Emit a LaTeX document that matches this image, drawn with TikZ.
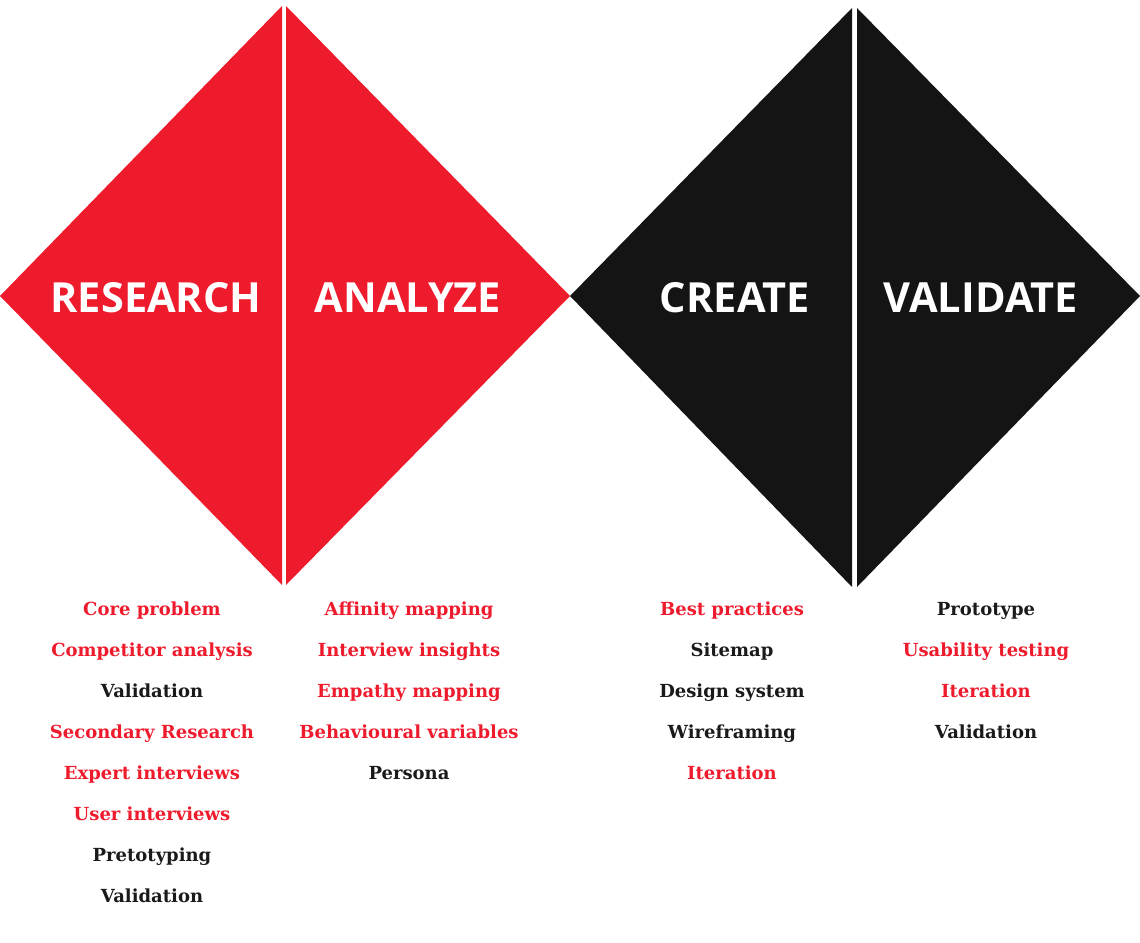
\documentclass[tikz,border=0pt]{standalone}
\usepackage{fontspec}
\setmainfont{DejaVu Serif}
\newfontfamily\headfont{Open Sans}
\definecolor{brandred}{HTML}{EE1B2D}
\definecolor{brandblack}{HTML}{141414}
\definecolor{inkblack}{HTML}{1A1A1A}
\tikzset{
  phase/.style={font=\headfont\bfseries\fontsize{41.5}{41.5}\selectfont, text=white, inner sep=0pt, anchor=base},
  item/.style={font=\bfseries\fontsize{18}{18}\selectfont, inner sep=0pt, anchor=base},
  hot/.style={item, text=brandred},
  cold/.style={item, text=inkblack},
}
\begin{document}
\begin{tikzpicture}[x=1pt, y=-1pt]
\useasboundingbox (0,0) rectangle (1140,942);
% red diamond, split in two halves
\fill[brandred] (0,296) -- (282,6) -- (282,585) -- cycle;
\fill[brandred] (286,6) -- (570,296) -- (286,585) -- cycle;
% black diamond, split in two halves
\fill[brandblack] (570,296) -- (852,8) -- (852,587) -- cycle;
\fill[brandblack] (857,8) -- (1140,296) -- (857,587) -- cycle;
% phase titles (placed on their baselines)
\node[phase] (research) at (156,312) {RESEARCH};
\node[phase] (analyze) at (408,312) {ANALYZE};
\node[phase] (create) at (735,312) {CREATE};
\node[phase] (validate) at (981,312) {VALIDATE};
% research activities
\node[hot]  (r1) at (152,615) {Core problem};
\node[hot]  (r2) at (152,656) {Competitor analysis};
\node[cold] (r3) at (152,697) {Validation};
\node[hot]  (r4) at (152,738) {Secondary Research};
\node[hot]  (r5) at (152,779) {Expert interviews};
\node[hot]  (r6) at (152,820) {User interviews};
\node[cold] (r7) at (152,861) {Pretotyping};
\node[cold] (r8) at (152,902) {Validation};
% analyze activities
\node[hot]  (a1) at (409,615) {Affinity mapping};
\node[hot]  (a2) at (409,656) {Interview insights};
\node[hot]  (a3) at (409,697) {Empathy mapping};
\node[hot]  (a4) at (409,738) {Behavioural variables};
\node[cold] (a5) at (409,779) {Persona};
% create activities
\node[hot]  (c1) at (732,615) {Best practices};
\node[cold] (c2) at (732,656) {Sitemap};
\node[cold] (c3) at (732,697) {Design system};
\node[cold] (c4) at (732,738) {Wireframing};
\node[hot]  (c5) at (732,779) {Iteration};
% validate activities
\node[cold] (v1) at (986,615) {Prototype};
\node[hot]  (v2) at (986,656) {Usability testing};
\node[hot]  (v3) at (986,697) {Iteration};
\node[cold] (v4) at (986,738) {Validation};
\end{tikzpicture}
\end{document}
